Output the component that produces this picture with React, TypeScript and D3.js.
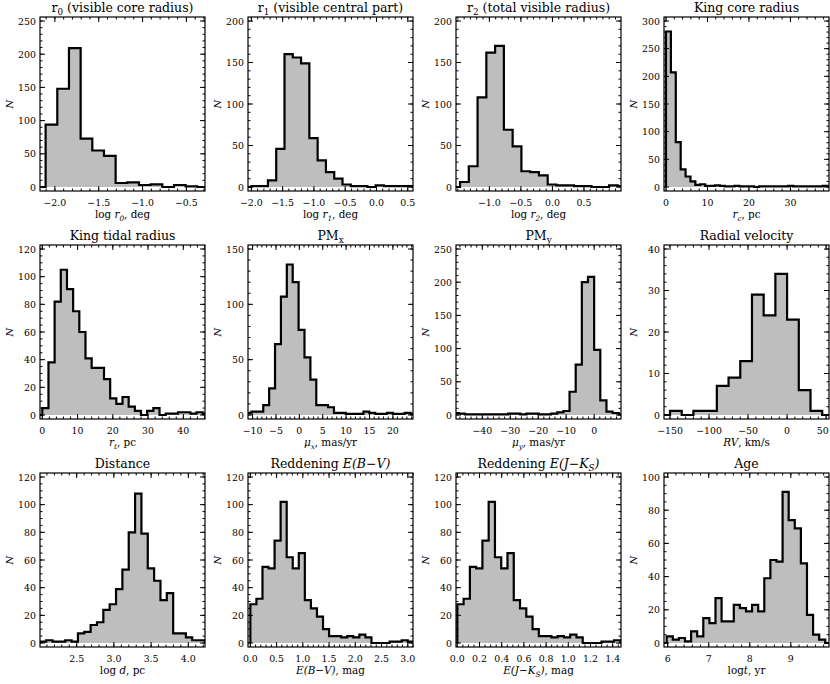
import React from "react";
import * as d3 from "d3";

// ---------- data ----------
// each histogram: first bin edge, bin width, counts
const r0Counts = [0, 94, 148, 209, 73, 55, 47, 6, 7, 3, 4, 0, 3, 1, 0];
const r0Bin = [-2.239, 0.1331];
const r1Counts = [0, 1, 1, 8, 46, 160, 156, 149, 59, 32, 18, 10, 3, 1, 1, 0, 2, 1, 1, 1, 1];
const r1Bin = [-2.133, 0.1325];
const r2Counts = [0, 6, 25, 108, 162, 170, 69, 49, 19, 18, 14, 3, 2, 2, 1, 1, 0, 0, 2, 1];
const r2Bin = [-1.604, 0.139];
const rcCounts = [281, 207, 81, 32, 19, 10, 4, 5, 2, 2, 3, 2, 1, 1, 2, 1, 1, 1, 0, 1, 1, 1, 1, 1, 1, 2, 1, 1, 1, 1, 1, 1, 2, 1];
const rcBin = [0, 1.18];
const rtCounts = [0, 5, 38, 82, 105, 91, 75, 60, 41, 34, 34, 26, 12, 8, 13, 6, 3, 0, 3, 5, 0, 1, 1, 2, 2, 1, 2, 1];
const rtBin = [-1.75, 1.75];
const pmxCounts = [2, 3, 3, 9, 24, 64, 107, 136, 120, 77, 52, 32, 9, 9, 7, 2, 2, 1, 1, 1, 3, 2, 1, 1, 2, 1, 1, 2, 1, 2];
const pmxBin = [-11.5, 1.26];
const pmyCounts = [3, 2, 1, 1, 1, 1, 1, 1, 1, 2, 2, 1, 2, 2, 1, 1, 2, 4, 6, 35, 76, 200, 208, 98, 22, 5, 3, 1];
const pmyBin = [-50.6, 2.2];
const rvCounts = [0, 1, 0, 1, 1, 7, 9, 13, 29, 24, 34, 23, 6, 1, 0];
const rvBin = [-165, 15];
const distCounts = [1, 2, 1, 1, 2, 1, 7, 8, 13, 15, 24, 28, 39, 53, 80, 108, 79, 54, 45, 31, 36, 7, 7, 4, 2, 2, 1];
const distBin = [2.005, 0.0853];
const ebvCounts = [28, 32, 55, 54, 74, 102, 62, 54, 65, 31, 25, 19, 10, 5, 5, 4, 5, 4, 6, 4, 0, 0, 0, 1, 1, 2, 1];
const ebvBin = [0, 0.1154];
const ejkCounts = [28, 32, 55, 54, 74, 102, 62, 54, 65, 31, 25, 19, 10, 5, 5, 4, 5, 4, 6, 4, 0, 0, 0, 1, 1, 2, 1];
const ejkBin = [0, 0.0565];
const ageCounts = [0, 4, 2, 3, 1, 7, 4, 15, 12, 27, 13, 13, 23, 21, 19, 23, 19, 39, 50, 49, 91, 74, 69, 48, 17, 5, 2, 0];
const ageBin = [5.827, 0.1486];

// axis ranges and ticks
const xDomains = [
  [-2.17, -0.288], [-2.054, 0.584], [-1.529, 1.087], [-0.48, 39.3],
  [-0.65, 46.15], [-10.98, 24.3], [-49.4, 9.6], [-157.7, 53.7],
  [2.007, 4.224], [-0.045, 3.1], [-0.012, 1.475], [5.91, 9.93],
];
const xMajor = [
  [-2.0, -1.5, -1.0, -0.5], [-2.0, -1.5, -1.0, -0.5, 0.0, 0.5], [-1.0, -0.5, 0.0, 0.5], [0, 10, 20, 30],
  [0, 10, 20, 30, 40], [-10, -5, 0, 5, 10, 15, 20], [-40, -30, -20, -10, 0], [-150, -100, -50, 0, 50],
  [2.5, 3.0, 3.5, 4.0], [0.0, 0.5, 1.0, 1.5, 2.0, 2.5, 3.0], [0.0, 0.2, 0.4, 0.6, 0.8, 1.0, 1.2, 1.4], [6, 7, 8, 9],
];
const xMinorStep = [0.1, 0.1, 0.1, 2, 2, 1, 2, 10, 0.1, 0.1, 0.05, 0.2];
const xDecimals = [1, 1, 1, 0, 0, 0, 0, 0, 1, 1, 1, 0];
const yMax = [250, 200, 200, 300, 120, 150, 250, 40, 120, 120, 120, 100];
const yMajorStep = [50, 50, 50, 50, 20, 50, 50, 10, 20, 20, 20, 20];
const yMinorStep = [10, 10, 10, 10, 5, 10, 10, 2, 5, 5, 5, 5];

type Seg = { t: string; it?: boolean; sub?: boolean };
const titles: Seg[][] = [
  [{ t: "r" }, { t: "0", sub: true }, { t: " (visible core radius)" }],
  [{ t: "r" }, { t: "1", sub: true }, { t: " (visible central part)" }],
  [{ t: "r" }, { t: "2", sub: true }, { t: " (total visible radius)" }],
  [{ t: "King core radius" }],
  [{ t: "King tidal radius" }],
  [{ t: "PM" }, { t: "x", sub: true }],
  [{ t: "PM" }, { t: "y", sub: true }],
  [{ t: "Radial velocity" }],
  [{ t: "Distance" }],
  [{ t: "Reddening " }, { t: "E(B\u2212V)", it: true }],
  [{ t: "Reddening " }, { t: "E(J\u2212K", it: true }, { t: "S", it: true, sub: true }, { t: ")", it: true }],
  [{ t: "Age" }],
];
const xLabels: Seg[][] = [
  [{ t: "log " }, { t: "r", it: true }, { t: "0", it: true, sub: true }, { t: ", deg" }],
  [{ t: "log " }, { t: "r", it: true }, { t: "1", it: true, sub: true }, { t: ", deg" }],
  [{ t: "log " }, { t: "r", it: true }, { t: "2", it: true, sub: true }, { t: ", deg" }],
  [{ t: "r", it: true }, { t: "c", it: true, sub: true }, { t: ", pc" }],
  [{ t: "r", it: true }, { t: "t", it: true, sub: true }, { t: ", pc" }],
  [{ t: "\u03bc", it: true }, { t: "x", it: true, sub: true }, { t: ", mas/yr" }],
  [{ t: "\u03bc", it: true }, { t: "y", it: true, sub: true }, { t: ", mas/yr" }],
  [{ t: "RV", it: true }, { t: ", km/s" }],
  [{ t: "log " }, { t: "d", it: true }, { t: ", pc" }],
  [{ t: "E(B\u2212V)", it: true }, { t: ", mag" }],
  [{ t: "E(J\u2212K", it: true }, { t: "S", it: true, sub: true }, { t: ")", it: true }, { t: ", mag" }],
  [{ t: "log" }, { t: "t", it: true }, { t: ", yr" }],
];

const counts = [r0Counts, r1Counts, r2Counts, rcCounts, rtCounts, pmxCounts, pmyCounts, rvCounts, distCounts, ebvCounts, ejkCounts, ageCounts];
const bins = [r0Bin, r1Bin, r2Bin, rcBin, rtBin, pmxBin, pmyBin, rvBin, distBin, ebvBin, ejkBin, ageBin];

// ---------- layout ----------
const W = 830, H = 684;
const lefts = [40, 248, 456, 664];
const tops = [17, 245, 473];
const PW = 165, PH = 174;
const FONT = "'DejaVu Serif', 'Liberation Serif', serif";
const TITLE_SIZE = 12.5;
const TICK_SIZE = 9.4;
const LABEL_SIZE = 10.4;

function rangeStep(a: number, b: number, s: number) {
  const out: number[] = [];
  const n0 = Math.ceil(a / s - 1e-6), n1 = Math.floor(b / s + 1e-6);
  for (let n = n0; n <= n1; n++) out.push(+(n * s).toFixed(6));
  return out;
}

function renderSegs(segs: Seg[], size: number) {
  return segs.map((s, i) => (
    <tspan key={i} fontStyle={s.it ? "italic" : "normal"} fontSize={s.sub ? size * 0.7 : size}
      dy={s.sub ? size * 0.25 : (i > 0 && segs[i - 1].sub ? -size * 0.25 : 0)}>
      {s.t}
    </tspan>
  ));
}

function fmt(v: number, d: number) {
  const s = Math.abs(v).toFixed(d);
  return (v < -1e-9 ? "\u2212" : "") + s;
}

function Panel({ i }: { i: number }) {
  const left = lefts[i % 4];
  const top = tops[Math.floor(i / 4)];
  const right = left + PW, bottom = top + PH;
  const x = d3.scaleLinear().domain(xDomains[i]).range([left, right]);
  const y = d3.scaleLinear().domain([0, yMax[i]]).range([bottom - 4, top + 4]);
  const [start, width] = bins[i];
  const c = counts[i];
  const pts: [number, number][] = [[start, 0]];
  c.forEach((v, k) => {
    pts.push([start + k * width, v]);
    pts.push([start + (k + 1) * width, v]);
  });
  pts.push([start + c.length * width, 0]);
  const line = d3.line<[number, number]>().x((d) => x(d[0])).y((d) => y(d[1]));
  const area = d3.area<[number, number]>().x((d) => x(d[0])).y0(y(0)).y1((d) => y(d[1]));
  const clipId = `clip${i}`;
  const xm = xMajor[i];
  const xmin = rangeStep(xDomains[i][0], xDomains[i][1], xMinorStep[i]);
  const ymaj = rangeStep(0, yMax[i], yMajorStep[i]);
  const ymin = rangeStep(-yMax[i] * 0.02, yMax[i] * 1.02, yMinorStep[i]).filter((v) => y(v) <= bottom && y(v) >= top);
  const MJ = 5, MN = 2.5;
  return (
    <g>
      <defs>
        <clipPath id={clipId}>
          <rect x={left} y={top} width={PW} height={PH} />
        </clipPath>
      </defs>
      <g clipPath={`url(#${clipId})`}>
        <path d={area(pts) || ""} fill="#bebebe" stroke="none" />
        <path d={line(pts) || ""} fill="none" stroke="#000" strokeWidth={2.2} strokeLinejoin="miter" />
      </g>
      <g stroke="#000" strokeWidth={1}>
        {xmin.map((v, k) => (
          <g key={"xn" + k}>
            <line x1={x(v)} x2={x(v)} y1={bottom} y2={bottom - MN} />
            <line x1={x(v)} x2={x(v)} y1={top} y2={top + MN} />
          </g>
        ))}
        {xm.map((v, k) => (
          <g key={"xm" + k}>
            <line x1={x(v)} x2={x(v)} y1={bottom} y2={bottom - MJ} />
            <line x1={x(v)} x2={x(v)} y1={top} y2={top + MJ} />
          </g>
        ))}
        {ymin.map((v, k) => (
          <g key={"yn" + k}>
            <line x1={left} x2={left + MN} y1={y(v)} y2={y(v)} />
            <line x1={right} x2={right - MN} y1={y(v)} y2={y(v)} />
          </g>
        ))}
        {ymaj.map((v, k) => (
          <g key={"ym" + k}>
            <line x1={left} x2={left + MJ} y1={y(v)} y2={y(v)} />
            <line x1={right} x2={right - MJ} y1={y(v)} y2={y(v)} />
          </g>
        ))}
      </g>
      <rect x={left} y={top} width={PW} height={PH} fill="none" stroke="#000" strokeWidth={1.2} />
      <g fontFamily={FONT} fontSize={TICK_SIZE} fill="#000">
        {xm.map((v, k) => {
          const label = fmt(v, xDecimals[i]);
          const half = label.length * TICK_SIZE * 0.33;
          const px = Math.min(x(v), W - 1 - half);
          return (
            <text key={"xl" + k} x={px} y={bottom + 14.5} textAnchor="middle">{label}</text>
          );
        })}
        {ymaj.map((v, k) => (
          <text key={"yl" + k} x={left - 4} y={y(v) + 3.5} textAnchor="end">{String(v)}</text>
        ))}
      </g>
      <text x={(left + right) / 2} y={top - 5} textAnchor="middle" fontFamily={FONT} fontSize={TITLE_SIZE} fill="#000">
        {renderSegs(titles[i], TITLE_SIZE)}
      </text>
      <text x={(left + right) / 2} y={bottom + 27} textAnchor="middle" fontFamily={FONT} fontSize={LABEL_SIZE} fill="#000">
        {renderSegs(xLabels[i], LABEL_SIZE)}
      </text>
      <text transform={`translate(${left - 27},${(top + bottom) / 2}) rotate(-90)`} textAnchor="middle"
        fontFamily={FONT} fontSize={10} fontStyle="italic" fill="#000">N</text>
    </g>
  );
}

export default function App() {
  return (
    <svg width={W} height={H} viewBox={`0 0 ${W} ${H}`} style={{ position: "absolute", left: 0, top: 0, background: "#fff" }}>
      <rect width={W} height={H} fill="#fff" />
      {counts.map((_, i) => <Panel key={i} i={i} />)}
    </svg>
  );
}
